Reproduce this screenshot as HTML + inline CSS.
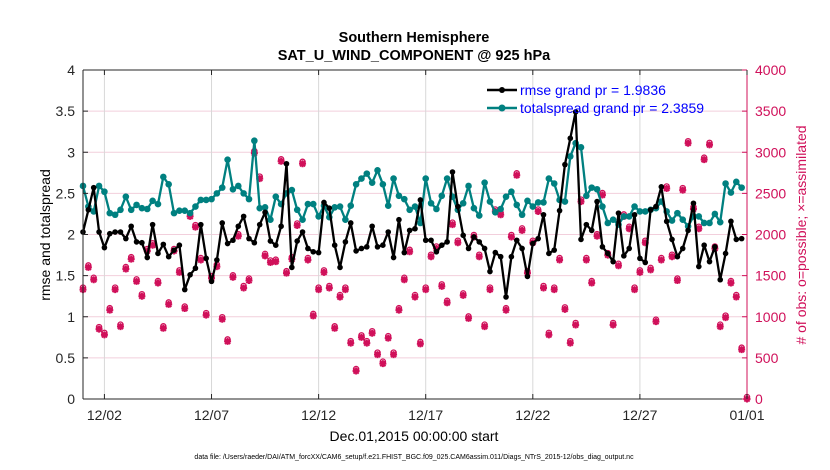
<!DOCTYPE html>
<html><head><meta charset="utf-8"><style>
body{margin:0;background:#fff;}
svg{display:block;font-family:"Liberation Sans",Arial,sans-serif;}
</style></head><body>
<svg id="chart" width="830" height="470" viewBox="0 0 830 470" xmlns="http://www.w3.org/2000/svg">
<rect width="830" height="470" fill="#fff"/>
<text x="414" y="42" text-anchor="middle" font-size="14.5" font-weight="bold">Southern Hemisphere</text>
<text x="414" y="60" text-anchor="middle" font-size="14.5" font-weight="bold">SAT_U_WIND_COMPONENT @ 925 hPa</text>
<g id="grid"></g>
<g id="marks"></g>
<g id="axes"></g>
<text transform="translate(50,235) rotate(-90)" text-anchor="middle" font-size="14">rmse and totalspread</text>
<text transform="translate(806,235) rotate(-90)" text-anchor="middle" font-size="14" fill="#d0105a"># of obs: o=possible; ×=assimilated</text>
<text x="414" y="441" text-anchor="middle" font-size="14">Dec.01,2015 00:00:00 start</text>
<text x="414" y="459" text-anchor="middle" font-size="7">data file: /Users/raeder/DAI/ATM_forcXX/CAM6_setup/f.e21.FHIST_BGC.f09_025.CAM6assim.011/Diags_NTrS_2015-12/obs_diag_output.nc</text>
<g>
<line x1="487" y1="90" x2="517" y2="90" stroke="#000" stroke-width="2.5"/><circle cx="502" cy="90" r="3" fill="#000"/>
<text x="520" y="95" font-size="14" fill="#0000ff">rmse grand pr = 1.9836</text>
<line x1="487" y1="108" x2="517" y2="108" stroke="#008080" stroke-width="2.5"/><circle cx="502" cy="108" r="3.5" fill="#008080"/>
<text x="520" y="113" font-size="14" fill="#0000ff">totalspread grand pr = 2.3859</text>
</g>
</svg>
<script>
const rmse=[2.03,2.3,2.57,2.03,1.84,2.01,2.03,2.03,1.95,2.1,1.91,1.9,1.72,2.12,1.77,1.88,1.73,1.81,1.87,1.33,1.51,1.59,2.12,1.71,1.43,1.69,2.14,1.89,1.93,2.1,2.22,1.95,
1.9,2.12,2.27,1.92,1.87,2.1,2.86,1.6,1.92,2.03,1.83,1.79,1.78,2.39,2.32,1.87,1.6,1.91,2.14,1.8,1.83,1.85,2.1,1.85,1.87,2.03,1.72,2.18,1.78,2.05,
2.07,2.42,1.93,1.93,1.79,1.87,1.91,2.76,2.34,1.99,1.83,1.97,1.91,1.83,1.55,1.78,1.73,1.24,1.73,1.93,1.83,1.49,1.89,1.95,2.24,1.77,1.81,2.29,2.85,3.17,3.49,
1.94,2.12,2.05,2.4,1.85,1.77,1.67,2.26,1.74,1.83,2.24,1.71,1.66,2.3,2.34,2.58,2.16,1.94,1.73,1.83,2.05,2.38,1.61,1.87,1.67,1.85,1.45,1.77,2.16,1.94,1.95];
const spread=[2.59,2.34,2.28,2.59,2.52,2.26,2.24,2.3,2.46,2.3,2.36,2.32,2.31,2.41,2.37,2.7,2.61,2.26,2.29,2.29,2.26,2.34,2.42,2.42,2.43,2.5,2.57,2.91,2.55,2.59,2.5,2.43,
3.14,2.32,2.33,2.18,2.46,2.37,2.5,2.54,2.3,2.18,2.37,2.37,2.22,2.35,2.21,2.33,2.34,2.18,2.35,2.61,2.68,2.74,2.63,2.78,2.61,2.35,2.68,2.47,2.43,2.3,
2.34,2.14,2.68,2.38,2.31,2.47,2.68,2.46,2.3,2.38,2.59,2.32,2.23,2.63,2.4,2.27,2.31,2.46,2.52,2.36,2.24,2.41,2.34,2.39,2.39,2.68,2.62,2.42,2.4,2.95,3.11,
3.06,2.47,2.57,2.55,2.34,2.14,2.18,2.12,2.22,2.22,2.34,2.28,2.28,2.3,2.32,2.4,2.28,2.17,2.26,2.18,2.1,2.22,2.22,2.14,2.14,2.25,2.15,2.62,2.51,2.64,2.57];
const nobs=[1330,1600,1450,850,780,1080,1330,880,1580,1700,1430,1250,1800,1870,1410,860,1150,1800,1540,1100,2220,2090,1690,1020,1470,1610,970,700,1480,1980,1350,1440,
2990,2680,1740,1660,1670,2890,1530,1700,2110,2860,1690,1010,1330,1540,1350,860,1240,1330,680,340,750,680,800,540,430,740,540,1080,1450,1790,
1240,670,1330,1730,1830,1370,1170,2120,1900,1260,980,1970,1730,880,1330,2280,2240,1080,1970,2720,2050,1530,1900,2280,1350,780,1330,1690,1090,680,900,
2400,1690,1410,1980,2480,1750,900,1620,2220,2070,1330,1540,1900,1570,940,1690,2560,1730,1440,2540,3110,2310,2070,2910,3090,1830,880,990,1410,1240,600,0];
const yTicks=[0,0.5,1,1.5,2,2.5,3,3.5,4];
const y2Ticks=[0,500,1000,1500,2000,2500,3000,3500,4000];
const xTickDays=[1,6,11,16,21,26,31];
const xTickLabels=["12/02","12/07","12/12","12/17","12/22","12/27","01/01"];
const stepDays=0.25;

const X0=83,X1=747,Y0=399,Y1=70,NS="http://www.w3.org/2000/svg";
const xs=d=>X0+(X1-X0)*d/31;
const ys=v=>Y0-(Y0-Y1)*v/4;
const y2s=v=>Y0-(Y0-Y1)*v/4000;
function mk(tag,attrs,parent){const e=document.createElementNS(NS,tag);for(const k in attrs)e.setAttribute(k,attrs[k]);parent.appendChild(e);return e;}
const grid=document.getElementById('grid'),marks=document.getElementById('marks'),axes=document.getElementById('axes');
y2Ticks.forEach(v=>{if(v>0&&v<4000){const l=mk('line',{x1:X0,x2:X1,y1:y2s(v),y2:y2s(v),stroke:'#f2cfdc','stroke-width':1},grid);

}});
xTickDays.forEach(d=>{const l=mk('line',{x1:xs(d),x2:xs(d),y1:Y1,y2:Y0,stroke:'#d8d8d8','stroke-width':1},grid);

});
// obs markers
nobs.forEach((v,i)=>{const x=xs(i*stepDays),y=y2s(v);
const g=mk('g',{},marks);


mk('circle',{cx:x,cy:y-2,r:2.6,fill:'none',stroke:'#d0105a','stroke-width':1.3},g);
mk('path',{d:`M${x-3.5} ${y}H${x+3.5}M${x} ${y-3.5}V${y+3.5}M${x-2.6} ${y-2.6}L${x+2.6} ${y+2.6}M${x-2.6} ${y+2.6}L${x+2.6} ${y-2.6}`,stroke:'#d0105a','stroke-width':2},g);});
function series(arr,color,r,name){
const p=arr.map((v,i)=>(i?'L':'M')+xs(i*stepDays).toFixed(1)+' '+ys(v).toFixed(1)).join('');
const path=mk('path',{d:p,fill:'none',stroke:color,'stroke-width':2.3,'stroke-linejoin':'round'},marks);


arr.forEach((v,i)=>{const c=mk('circle',{cx:xs(i*stepDays),cy:ys(v),r:r,fill:color},marks);

});}
series(spread,'#008080',3.3,'totalspread');
series(rmse,'#000000',2.8,'rmse');
// axes
mk('line',{x1:X0,x2:X1,y1:Y0,y2:Y0,stroke:'#262626','stroke-width':1},axes);
mk('line',{x1:X0,x2:X1,y1:Y1,y2:Y1,stroke:'#262626','stroke-width':1},axes);
mk('line',{x1:X0,x2:X0,y1:Y1,y2:Y0,stroke:'#262626','stroke-width':1},axes);
mk('line',{x1:X1,x2:X1,y1:Y1,y2:Y0,stroke:'#d0105a','stroke-width':1},axes);
yTicks.forEach(v=>{mk('line',{x1:X0,x2:X0+5,y1:ys(v),y2:ys(v),stroke:'#262626'},axes);
const t=mk('text',{x:X0-8,y:ys(v)+5,'text-anchor':'end','font-size':14,fill:'#262626'},axes);t.textContent=v;

});
y2Ticks.forEach(v=>{mk('line',{x1:X1-5,x2:X1,y1:y2s(v),y2:y2s(v),stroke:'#d0105a'},axes);
const t=mk('text',{x:X1+8,y:y2s(v)+5,'font-size':14,fill:'#d0105a'},axes);t.textContent=v;

});
xTickDays.forEach((d,i)=>{mk('line',{x1:xs(d),x2:xs(d),y1:Y0,y2:Y0-5,stroke:'#262626'},axes);mk('line',{x1:xs(d),x2:xs(d),y1:Y1,y2:Y1+5,stroke:'#262626'},axes);
const t=mk('text',{x:xs(d),y:420,'text-anchor':'middle','font-size':14,fill:'#262626'},axes);t.textContent=xTickLabels[i];

});
</script>
</body></html>
